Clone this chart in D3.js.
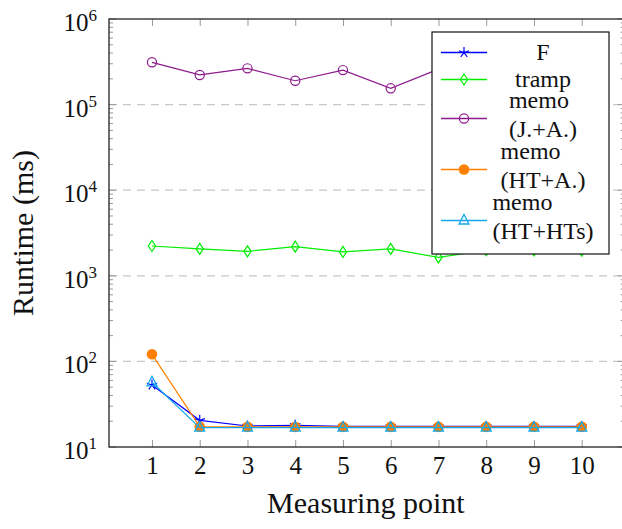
<!DOCTYPE html>
<html>
<head>
<meta charset="utf-8">
<script src="https://cdn.jsdelivr.net/npm/d3@7"></script>
<style>
  body { margin: 0; background: #fff; }
  svg { display: block; }
</style>
</head>
<body>
<script>
// measuring points on the x axis
const points = [1, 2, 3, 4, 5, 6, 7, 8, 9, 10];

// runtime values (ms)
const fVals        = [53, 20.5, 17.6, 17.9, 17.4, 17.4, 17.4, 17.4, 17.4, 17.4];
const trampVals    = [2230, 2060, 1930, 2190, 1900, 2060, 1640, 1990, 1980, 1970];
const memoJAVals   = [312000, 222000, 265000, 190000, 253000, 155000, 260000, 240000, 270000, 230000];
const memoHTAVals  = [121, 17.3, 17.2, 17.2, 17.2, 17.2, 17.2, 17.2, 17.2, 17.2];
const memoHTHTsVals = [57, 16.8, 16.8, 16.8, 16.8, 16.8, 16.8, 16.8, 16.8, 16.8];

// legend labels (multi-line entries as arrays)
const seriesNames = [["F"], ["tramp"], ["memo", "(J.+A.)"], ["memo", "(HT+A.)"], ["memo", "(HT+HTs)"]];
const seriesColors = ["#0000ff", "#00ee00", "#8b1a8b", "#ff8000", "#14a8ea"];
const seriesMarkers = ["star", "diamond", "circle", "dot", "triangle"];

const yTickExps = [1, 2, 3, 4, 5, 6];

const W = 622, H = 529;
const pLeft = 109, pRight = 624.7, pTop = 19, pBottom = 447;
const serif = "Liberation Serif";

const svg = d3.select("body").append("svg")
  .attr("width", W)
  .attr("height", H);

const x = d3.scaleLinear().domain([0.1, 10.9]).range([pLeft, pRight]);
const y = d3.scaleLog().domain([10, 1e6]).range([pBottom, pTop]);

// grid lines at decades
svg.append("g")
  .selectAll("line")
  .data([1e2, 1e3, 1e4, 1e5])
  .join("line")
  .attr("x1", pLeft).attr("x2", pRight)
  .attr("y1", d => y(d)).attr("y2", d => y(d))
  .attr("stroke", "#c8c8c8")
  .attr("stroke-width", 1.2)
  .attr("stroke-dasharray", "8,6");

// minor y ticks (2..9 of every decade), both sides
let minor = [];
for (let e = 1; e < 6; e++) for (let k = 2; k <= 9; k++) minor.push(k * Math.pow(10, e));
const tickG = svg.append("g").attr("stroke", "#9a9a9a").attr("stroke-width", 1);
tickG.selectAll("line.minL").data(minor).join("line").attr("class", "minL")
  .attr("x1", pLeft).attr("x2", pLeft + 4).attr("y1", d => y(d)).attr("y2", d => y(d));
tickG.selectAll("line.minR").data(minor).join("line").attr("class", "minR")
  .attr("x1", pRight).attr("x2", pRight - 4).attr("y1", d => y(d)).attr("y2", d => y(d));
const majors = yTickExps.map(e => Math.pow(10, e));
tickG.selectAll("line.majL").data(majors).join("line").attr("class", "majL")
  .attr("x1", pLeft).attr("x2", pLeft + 7).attr("y1", d => y(d)).attr("y2", d => y(d));
tickG.selectAll("line.majR").data(majors).join("line").attr("class", "majR")
  .attr("x1", pRight).attr("x2", pRight - 7).attr("y1", d => y(d)).attr("y2", d => y(d));

// x axis (ticks inward) + top ticks
const xAxis = svg.append("g")
  .attr("transform", `translate(0,${pBottom})`)
  .call(d3.axisBottom(x).tickValues(points).tickSize(-7).tickPadding(9));
xAxis.select(".domain").remove();
xAxis.selectAll(".tick line").attr("stroke", "#9a9a9a");
xAxis.selectAll(".tick text")
  .attr("font-family", serif)
  .attr("font-size", 25)
  .attr("fill", "#111");

const xTop = svg.append("g")
  .attr("transform", `translate(0,${pTop})`)
  .call(d3.axisTop(x).tickValues(points).tickSize(-7).tickFormat(""));
xTop.select(".domain").remove();
xTop.selectAll(".tick line").attr("stroke", "#9a9a9a");

// y tick labels 10^k
const yLab = svg.append("g")
  .selectAll("text")
  .data(yTickExps)
  .join("text")
  .attr("x", pLeft - 12)
  .attr("y", d => y(Math.pow(10, d)) + 12)
  .attr("text-anchor", "end")
  .attr("font-family", serif)
  .attr("font-size", 25)
  .attr("fill", "#111");
yLab.append("tspan").text("10");
yLab.append("tspan").attr("dy", -10).attr("font-size", 17).text(d => d);

// series
const seriesVals = [fVals, trampVals, memoJAVals, memoHTAVals, memoHTHTsVals];
const line = d3.line().x((d, i) => x(points[i])).y(d => y(d));

function drawMarker(g, type, color) {
  if (type === "star") {
    let p = "";
    for (let k = 0; k < 5; k++) {
      const a = -Math.PI / 2 + k * 2 * Math.PI / 5;
      p += `M0,0L${(5.5 * Math.cos(a)).toFixed(2)},${(5.5 * Math.sin(a)).toFixed(2)}`;
    }
    g.append("path").attr("d", p).attr("stroke", color).attr("stroke-width", 1.2).attr("fill", "none");
  } else if (type === "diamond") {
    g.append("path").attr("d", "M0,-5.5L3.6,0L0,5.5L-3.6,0Z")
      .attr("stroke", color).attr("stroke-width", 1.2).attr("fill", "none");
  } else if (type === "circle") {
    g.append("circle").attr("r", 4.6).attr("stroke", color).attr("stroke-width", 1.2).attr("fill", "none");
  } else if (type === "dot") {
    g.append("circle").attr("r", 5.3).attr("fill", color);
  } else if (type === "triangle") {
    g.append("path").attr("d", "M0,-6L5,3.5L-5,3.5Z")
      .attr("stroke", color).attr("stroke-width", 1.3).attr("fill", "none");
  }
}

seriesVals.forEach((vals, s) => {
  const g = svg.append("g");
  g.append("path")
    .datum(vals)
    .attr("fill", "none")
    .attr("stroke", seriesColors[s])
    .attr("stroke-width", 1.2)
    .attr("d", line);
  vals.forEach((v, i) => {
    const m = g.append("g").attr("transform", `translate(${x(points[i])},${y(v)})`);
    drawMarker(m, seriesMarkers[s], seriesColors[s]);
  });
});

// frame
svg.append("rect")
  .attr("x", pLeft).attr("y", pTop)
  .attr("width", pRight - pLeft).attr("height", pBottom - pTop)
  .attr("fill", "none")
  .attr("stroke", "#222")
  .attr("stroke-width", 1.3);

// axis labels
svg.append("text")
  .attr("x", (pLeft + pRight) / 2 - 1)
  .attr("y", 513)
  .attr("text-anchor", "middle")
  .attr("font-family", serif)
  .attr("font-size", 30)
  .attr("fill", "#111")
  .text("Measuring point");

svg.append("text")
  .attr("transform", `translate(33,${(pTop + pBottom) / 2}) rotate(-90)`)
  .attr("text-anchor", "middle")
  .attr("font-family", serif)
  .attr("font-size", 30)
  .attr("fill", "#111")
  .text("Runtime (ms)");

// legend
const lg = svg.append("g");
lg.append("rect")
  .attr("x", 432).attr("y", 32)
  .attr("width", 177).attr("height", 222)
  .attr("fill", "#fff")
  .attr("stroke", "#111")
  .attr("stroke-width", 1.2);

let rowTop = 39;
seriesNames.forEach((lines, s) => {
  const h = lines.length === 1 ? 27 : 51;
  const cy = rowTop + h / 2;
  lg.append("line")
    .attr("x1", 441).attr("x2", 487)
    .attr("y1", cy).attr("y2", cy)
    .attr("stroke", seriesColors[s])
    .attr("stroke-width", 1.3);
  const m = lg.append("g").attr("transform", `translate(464,${cy})`);
  drawMarker(m, seriesMarkers[s], seriesColors[s]);

  const t = lg.append("text")
    .attr("font-family", serif)
    .attr("font-size", 24)
    .attr("fill", "#111");
  const offs = lines.length === 1 ? [7] : [-10.7, 18.5];
  const spans = lines.map((l, i) => t.append("tspan").attr("y", cy + offs[i]).text(l));
  const maxW = d3.max(spans, sp => sp.node().getComputedTextLength());
  spans.forEach(sp => sp.attr("x", 543 - maxW / 2));
  rowTop += h;
});
</script>
</body>
</html>
